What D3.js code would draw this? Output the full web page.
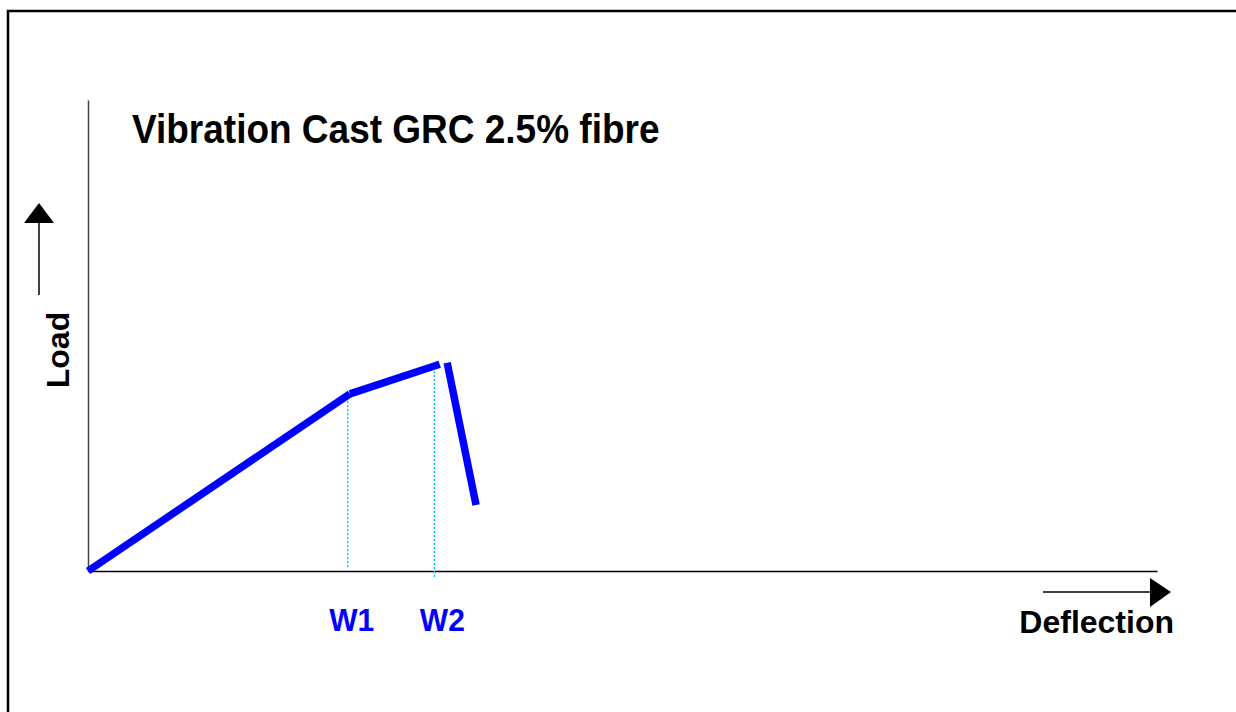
<!DOCTYPE html>
<html>
<head>
<meta charset="utf-8">
<script src="https://cdn.jsdelivr.net/npm/d3@7"></script>
<style>
  body { margin: 0; background: #fff; }
  svg { display: block; font-family: "Liberation Sans", Arial, sans-serif; }
</style>
</head>
<body>
<div id="chart"></div>
<script>
// Load-deflection curve (arbitrary units)
const curveRise = [[0, 0], [2.45, 3.76]];        // elastic part up to W1
const curveHarden = [[2.45, 3.76], [3.29, 4.39]]; // W1 to peak (W2)
const curveDrop = [[3.36, 4.42], [3.63, 1.40]];   // post-peak drop
const markers = [
    { label: "W1", x: 2.43, y0: 0.08, y1: 3.74 },
    { label: "W2", x: 3.24, y0: -0.13, y1: 4.31 }
];
const title = "Vibration Cast GRC 2.5% fibre";
const xLabel = "Deflection";
const yLabel = "Load";

const width = 1236;
const height = 712;
const margin = { top: 100, right: 79, bottom: 141, left: 88 };

const svg = d3.select("#chart")
    .append("svg")
    .attr("width", width)
    .attr("height", height);

// Frame around the picture
svg.append("path")
    .attr("d", `M8,${height + 5}V11H${width + 5}`)
    .attr("fill", "none")
    .attr("stroke", "#000")
    .attr("stroke-width", 2.5);

const x = d3.scaleLinear()
    .domain([0, 10])
    .range([margin.left, width - margin.right]);

const y = d3.scaleLinear()
    .domain([0, 10])
    .range([height - margin.bottom, margin.top]);

// Axes without ticks
svg.append("g")
    .attr("transform", `translate(0, ${y(0)})`)
    .call(d3.axisBottom(x).tickValues([]).tickSizeOuter(0))
    .select(".domain")
    .attr("stroke", "#000")
    .attr("stroke-width", 1.5);

svg.append("g")
    .attr("transform", `translate(${x(0)}, 0)`)
    .call(d3.axisLeft(y).tickValues([]).tickSizeOuter(0))
    .select(".domain")
    .attr("stroke", "#444")
    .attr("stroke-width", 1.5);

// Dotted verticals at W1 / W2
svg.selectAll(".marker")
    .data(markers)
    .enter()
    .append("line")
    .attr("class", "marker")
    .attr("x1", d => x(d.x))
    .attr("x2", d => x(d.x))
    .attr("y1", d => y(d.y0))
    .attr("y2", d => y(d.y1))
    .attr("stroke", "#00c8ff")
    .attr("stroke-width", 1.5)
    .attr("stroke-dasharray", "2,2");

// Curve segments
const line = d3.line().x(d => x(d[0])).y(d => y(d[1]));
svg.selectAll(".curve")
    .data([curveRise, curveHarden, curveDrop])
    .enter()
    .append("path")
    .attr("class", "curve")
    .attr("d", line)
    .attr("fill", "none")
    .attr("stroke", "#0000ff")
    .attr("stroke-width", 7.5)
    .attr("stroke-linecap", "butt");

// Marker labels
svg.selectAll(".marker-label")
    .data(markers)
    .enter()
    .append("text")
    .attr("class", "marker-label")
    .attr("transform", (d, i) => `translate(${x(d.x) + 4 + i * 4}, 631) scale(1, 1.05)`)
    .attr("text-anchor", "middle")
    .attr("font-size", "30px")
    .attr("font-weight", "bold")
    .attr("fill", "#0000ff")
    .text(d => d.label);

// Title (source font is a bit taller than Liberation Sans)
svg.append("text")
    .attr("transform", "translate(132, 143) scale(1, 1.1)")
    .attr("font-size", "37px")
    .attr("font-weight", "bold")
    .text(title);

// Deflection arrow and label
svg.append("line")
    .attr("x1", 1043).attr("x2", 1152)
    .attr("y1", 592).attr("y2", 592)
    .attr("stroke", "#000").attr("stroke-width", 1.5);
svg.append("path")
    .attr("d", "M1150,578L1171,592L1150,607Z")
    .attr("fill", "#000");
svg.append("text")
    .attr("x", 1174)
    .attr("y", 633)
    .attr("text-anchor", "end")
    .attr("font-size", "32px")
    .attr("font-weight", "bold")
    .text(xLabel);

// Load arrow and label
svg.append("line")
    .attr("x1", 39).attr("x2", 39)
    .attr("y1", 295).attr("y2", 221)
    .attr("stroke", "#000").attr("stroke-width", 1.5);
svg.append("path")
    .attr("d", "M24,223L39,203L54,223Z")
    .attr("fill", "#000");
svg.append("text")
    .attr("transform", "translate(69, 350) rotate(-90)")
    .attr("text-anchor", "middle")
    .attr("font-size", "32px")
    .attr("font-weight", "bold")
    .text(yLabel);
</script>
</body>
</html>
